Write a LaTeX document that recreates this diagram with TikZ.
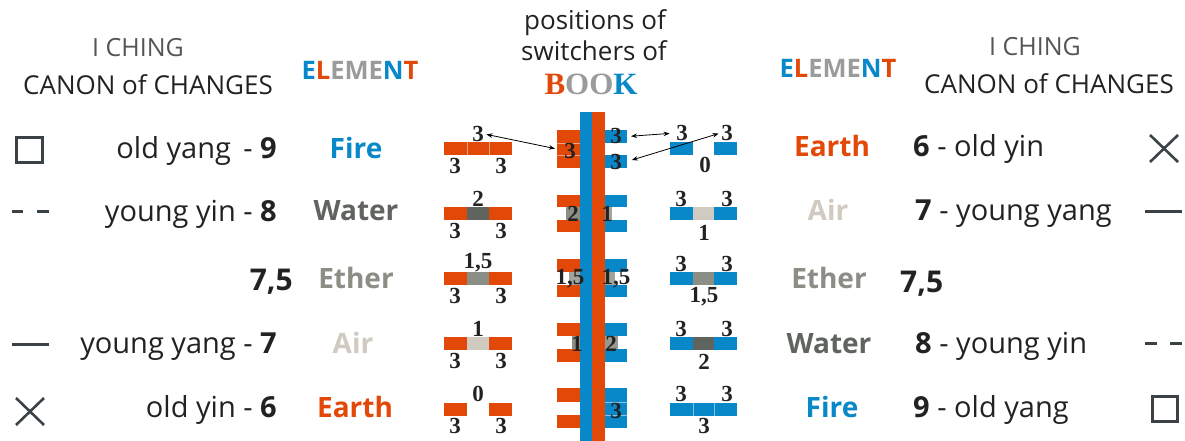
\documentclass[tikz,border=0pt]{standalone}
\usepackage{fontspec}
\setmainfont{Open Sans}
\newfontfamily\numf{Liberation Serif}
\usetikzlibrary{arrows.meta}
\definecolor{org}{RGB}{226,72,8}
\definecolor{blu}{RGB}{8,136,200}
\definecolor{wat}{RGB}{95,100,95}
\definecolor{eth}{RGB}{138,142,132}
\definecolor{air}{RGB}{208,202,192}
\definecolor{elg}{RGB}{155,155,155}
\definecolor{symc}{RGB}{58,66,70}
\definecolor{ink}{RGB}{34,34,34}
\definecolor{hdrc}{RGB}{85,85,85}
\begin{document}
\begin{tikzpicture}[x=1pt,y=-1pt,
  body/.style={font=\fontsize{29}{34}\selectfont, text=ink, inner sep=0pt},
  elemn/.style={font=\fontsize{28}{32}\selectfont\bfseries, inner sep=0pt, anchor=base},
  hdr/.style={font=\fontsize{26}{30}\selectfont, inner sep=0pt, anchor=base},
  num/.style={font=\numf\bfseries\fontsize{23}{25}\selectfont, text=ink, inner sep=0.5pt},
  blk/.style={inner sep=0pt, outer sep=0pt, minimum width=23pt},
  sym/.style={draw=symc, line width=3pt},
  sep/.style={draw=white, line width=0.5pt, opacity=0.5},
  arr/.style={<->, >={Stealth[length=6pt,width=4.5pt]}, line width=0.8pt, draw=black}]
\useasboundingbox (0,0) rectangle (1185,441);

% ---------------- headers ----------------
\node[hdr, text=hdrc, font=\fontsize{25}{30}\selectfont] (hL1) at (138,57) {I CHING};
\node[hdr, text=ink] (hL2) at (148,95) {CANON of CHANGES};
\node[hdr, text=hdrc, font=\fontsize{25}{30}\selectfont] (hR1) at (1035,56) {I CHING};
\node[hdr, text=ink] (hR2) at (1049,94) {CANON of CHANGES};
\node[elemn, font=\fontsize{25.5}{28}\selectfont\bfseries] (elL) at (360,80)
  {\textcolor{blu}{E}\textcolor{org}{L}\textcolor{elg}{EME}\textcolor{blu}{N}\textcolor{org}{T}};
\node[elemn, font=\fontsize{25.5}{28}\selectfont\bfseries] (elR) at (838,78)
  {\textcolor{blu}{E}\textcolor{org}{L}\textcolor{elg}{EME}\textcolor{blu}{N}\textcolor{org}{T}};
\node[body, anchor=base, text=ink, font=\fontsize{26}{30}\selectfont] (pc1) at (595,30) {positions of};
\node[body, anchor=base, text=ink, font=\fontsize{26}{30}\selectfont] (pc2) at (594,61) {switchers of};
\node[anchor=base, inner sep=0pt, font=\numf\bfseries\fontsize{31}{34}\selectfont] (book) at (591,95)
  {\textcolor{org}{B}\textcolor{elg}{OO}\textcolor{blu}{K}};

% ---------------- symbols ----------------
\draw[sym] (16.5,137.5) rectangle (42.5,162.5);
\draw[sym] (12,211) -- (23,211);
\draw[sym] (37,211) -- (49,211);
\draw[sym] (12,344) -- (49,344);
\draw[sym, line width=2.6pt] (16,398) -- (44,425);
\draw[sym, line width=2.6pt] (16,425) -- (44,398);
\draw[sym, line width=2.6pt] (1150,135) -- (1178,162);
\draw[sym, line width=2.6pt] (1150,162) -- (1178,135);
\draw[sym] (1145,211) -- (1182,211);
\draw[sym] (1145,343) -- (1157,343);
\draw[sym] (1170,343) -- (1182,343);
\draw[sym] (1152.5,396.5) rectangle (1177.5,421.5);

% ---------------- left texts ----------------
\node[body, anchor=base east] (t1) at (277,158) {old yang\, - \textbf{9}};
\node[body, anchor=base east] (t2) at (277,221) {young yin - \textbf{8}};
\node[body, anchor=base east, font=\fontsize{30}{34}\selectfont] (t3) at (293,290) {\textbf{7,5}};
\node[body, anchor=base east] (t4) at (277,353) {young yang - \textbf{7}};
\node[body, anchor=base east] (t5) at (277,417) {old yin - \textbf{6}};

\node[elemn, text=blu] (e1) at (356,158) {Fire};
\node[elemn, text=wat] (e2) at (356,220) {Water};
\node[elemn, text=eth] (e3) at (356,288) {Ether};
\node[elemn, text=air] (e4) at (353,353) {Air};
\node[elemn, text=org] (e5) at (355,417) {Earth};

% ---------------- right texts ----------------
\node[elemn, text=org] (f1) at (832,157) {Earth};
\node[elemn, text=air] (f2) at (828,220) {Air};
\node[elemn, text=eth] (f3) at (829,288) {Ether};
\node[elemn, text=wat] (f4) at (829,353) {Water};
\node[elemn, text=blu] (f5) at (832,417) {Fire};

\node[body, anchor=base west] (u1) at (913,157) {\textbf{6} - old yin};
\node[body, anchor=base west] (u2) at (915,220) {\textbf{7} - young yang};
\node[body, anchor=base west, font=\fontsize{30}{34}\selectfont] (u3) at (900,292) {\textbf{7,5}};
\node[body, anchor=base west] (u4) at (915,353) {\textbf{8} - young yin};
\node[body, anchor=base west] (u5) at (913,417) {\textbf{9} - old yang};

% ---------------- element bars ----------------
\foreach \c/\ml/\mr in {148.5/org/none, 213/wat/air, 278/eth/eth, 343/air/wat, 409/none/blu}{
  \fill[org] (444,\c-6.5) rectangle (467,\c+6.5);
  \path[fill=\ml] (467,\c-6.5) rectangle (489,\c+6.5);
  \fill[org] (489,\c-6.5) rectangle (512,\c+6.5);
  \fill[blu] (670,\c-6.5) rectangle (693,\c+6.5);
  \path[fill=\mr] (693,\c-6.5) rectangle (714,\c+6.5);
  \fill[blu] (714,\c-6.5) rectangle (737,\c+6.5);
}
\draw[sep] (467,142) -- (467,155) (489,142) -- (489,155);
\draw[sep] (693,402.5) -- (693,415.5) (714,402.5) -- (714,415.5);

% bar labels left
\node[num] (L1a) at (478,134) {3};
\node[num] (L1b) at (455,166) {3};
\node[num] (L1c) at (501,166) {3};
\node[num] (L2a) at (478,199) {2};
\node[num] (L2b) at (455,231) {3};
\node[num] (L2c) at (501,231) {3};
\node[num] (L3a) at (478,263) {1,5};
\node[num] (L3b) at (455,296) {3};
\node[num] (L3c) at (501,296) {3};
\node[num] (L4a) at (478,329) {1};
\node[num] (L4b) at (455,361) {3};
\node[num] (L4c) at (501,361) {3};
\node[num] (L5a) at (478,394) {0};
\node[num] (L5b) at (455,426) {3};
\node[num] (L5c) at (501,426) {3};
% bar labels right
\node[num] (R1a) at (682,133) {3};
\node[num] (R1b) at (727,133) {3};
\node[num] (R1c) at (705,165) {0};
\node[num] (R2a) at (681,199) {3};
\node[num] (R2b) at (727,199) {3};
\node[num] (R2c) at (704,233) {1};
\node[num] (R3a) at (681,264) {3};
\node[num] (R3b) at (727,264) {3};
\node[num] (R3c) at (704,297) {1,5};
\node[num] (R4a) at (681,329) {3};
\node[num] (R4b) at (727,329) {3};
\node[num] (R4c) at (704,362) {2};
\node[num] (R5a) at (681,394) {3};
\node[num] (R5b) at (727,394) {3};
\node[num] (R5c) at (704,426) {3};

% ---------------- central column ----------------
% left blocks
\fill[org] (557,195) rectangle (580,207);
\fill[org] (557,220) rectangle (580,232);
\fill[org] (557,259) rectangle (580,272);
\fill[org] (557,285) rectangle (580,297);
\fill[org] (557,323) rectangle (580,336);
\fill[org] (557,349) rectangle (580,362);
\fill[org] (557,388) rectangle (580,402);
\fill[org] (557,415) rectangle (580,428);
% right blocks
\fill[blu] (604,195) rectangle (627,207);
\fill[blu] (604,220) rectangle (627,232);
\fill[blu] (604,259) rectangle (627,272);
\fill[blu] (604,285) rectangle (627,297);
\fill[blu] (604,323) rectangle (627,336);
\fill[blu] (604,349) rectangle (627,362);
% gray switch boxes
\fill[eth] (566,207) rectangle (580,220);
\fill[eth!80] (604,207) rectangle (612,220);
\fill[eth!80] (569,272) rectangle (580,285);
\fill[eth!80] (604,272) rectangle (615,285);
\fill[eth] (572,336) rectangle (580,349);
\fill[eth!90] (604,336) rectangle (618,349);
% block nodes
\node[blk, fill=org, minimum height=38pt] (C1L) at (568.5,149) {};
\node[blk, fill=blu, minimum height=13pt] (C1Ra) at (615.5,136.5) {};
\node[blk, fill=blu, minimum height=13pt] (C1Rb) at (615.5,161.5) {};
\node[blk, fill=blu, minimum height=40pt] (C5R) at (615.5,408) {};
\draw[sep] (557,143) -- (580,143) (557,155) -- (580,155);
\draw[sep] (604,402) -- (627,402) (604,415) -- (627,415);
% vertical bars
\fill[blu] (580,112) rectangle (592,441);
\fill[org] (592,112) rectangle (605,441);
% central labels
\node[num] (c1l) at (570,151) {3};
\node[num] (c1a) at (616,136) {3};
\node[num] (c1b) at (616,162) {3};
\node[num] (c2l) at (573,214) {2};
\node[num] (c2r) at (607,214) {1};
\node[num] (c3l) at (570,279) {1,5};
\node[num] (c3r) at (616,279) {1,5};
\node[num] (c4l) at (577,344) {1};
\node[num] (c4r) at (611,344) {2};
\node[num] (c5r) at (616,411) {3};

% ---------------- arrows ----------------
\draw[arr, shorten >=2pt, shorten <=2pt] (L1a.east) -- (C1L.west);
\draw[arr, shorten <=4pt, shorten >=6pt] (C1Ra.east) -- (R1a.west);
\draw[arr, shorten <=5pt, shorten >=2pt] (C1Rb.east) -- (R1b.west);
\end{tikzpicture}
\end{document}
